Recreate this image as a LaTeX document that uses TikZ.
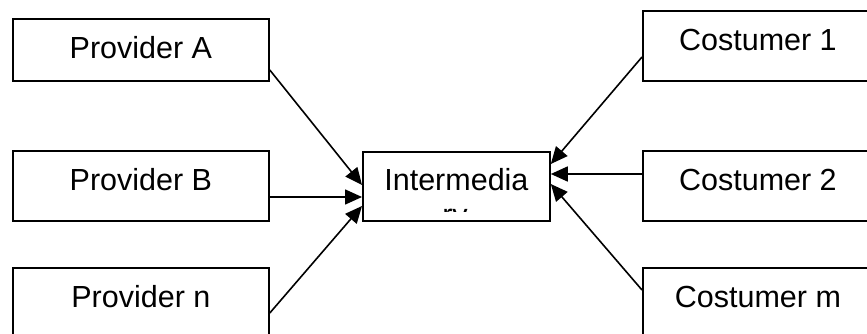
\documentclass[tikz,border=0pt]{standalone}
\usepackage{fontspec}
\setmainfont{Liberation Sans}
\usetikzlibrary{arrows.meta,calc}
\tikzset{
  party/.style={draw=black, line width=1.8pt, fill=white, inner sep=0pt,
    anchor=north west, text height=40pt, text depth=30pt,
    font=\fontsize{30.5}{36}\selectfont},
  link/.style={line width=1.6pt, -{Triangle[length=17pt,width=15pt]}}
}
\begin{document}
\begin{tikzpicture}[x=1pt,y=-1pt]
\useasboundingbox (0,0) rectangle (867,334);
\clip (0,0) rectangle (867,334);
% suppliers on the left
\node[party, minimum width=256pt, text depth=22pt] (pa) at (12,18) {Provider A};
\node[party, minimum width=256pt] (pb) at (12,150) {Provider B};
\node[party, minimum width=256pt] (pn) at (12,267) {Provider n};
% broker in the middle
\node[party, minimum width=187pt, text height=39pt] (im) at (362,151) {Intermedia};
% customers on the right
\node[party, minimum width=230pt] (c1) at (642,10) {Costumer 1};
\node[party, minimum width=230pt] (c2) at (642,150) {Costumer 2};
\node[party, minimum width=230pt] (cm) at (642,267) {Costumer m};
% second line of the broker label, cut off by the box
\begin{scope}
  \clip (400,207) rectangle (500,211);
  \node[font=\fontsize{30.5}{36}\selectfont, anchor=base, inner sep=0pt] (im2) at (455,225) {ry};
\end{scope}
% connectors
\coordinate (pas) at ($(pa.north east)+(0,52)$);
\coordinate (pbs) at ($(pb.north east)+(0,47)$);
\coordinate (pns) at ($(pn.north east)+(0,46)$);
\coordinate (c1s) at ($(c1.north west)+(0,47)$);
\coordinate (c2s) at ($(c2.north west)+(0,24)$);
\coordinate (cms) at ($(cm.north west)+(0,23)$);
\coordinate (ia) at ($(im.north west)+(0,34)$);
\coordinate (ib) at ($(im.north west)+(0,46)$);
\coordinate (in) at ($(im.north west)+(0,55)$);
\coordinate (i1) at ($(im.north east)+(0,13)$);
\coordinate (i2) at ($(im.north east)+(0,23)$);
\coordinate (im3) at ($(im.north east)+(0,33)$);
\draw[link] (pas) -- (ia);
\draw[link] (pbs) -- (ib);
\draw[link] (pns) -- (in);
\draw[link] (c1s) -- (i1);
\draw[link] (c2s) -- (i2);
\draw[link] (cms) -- (im3);
\end{tikzpicture}
\end{document}
